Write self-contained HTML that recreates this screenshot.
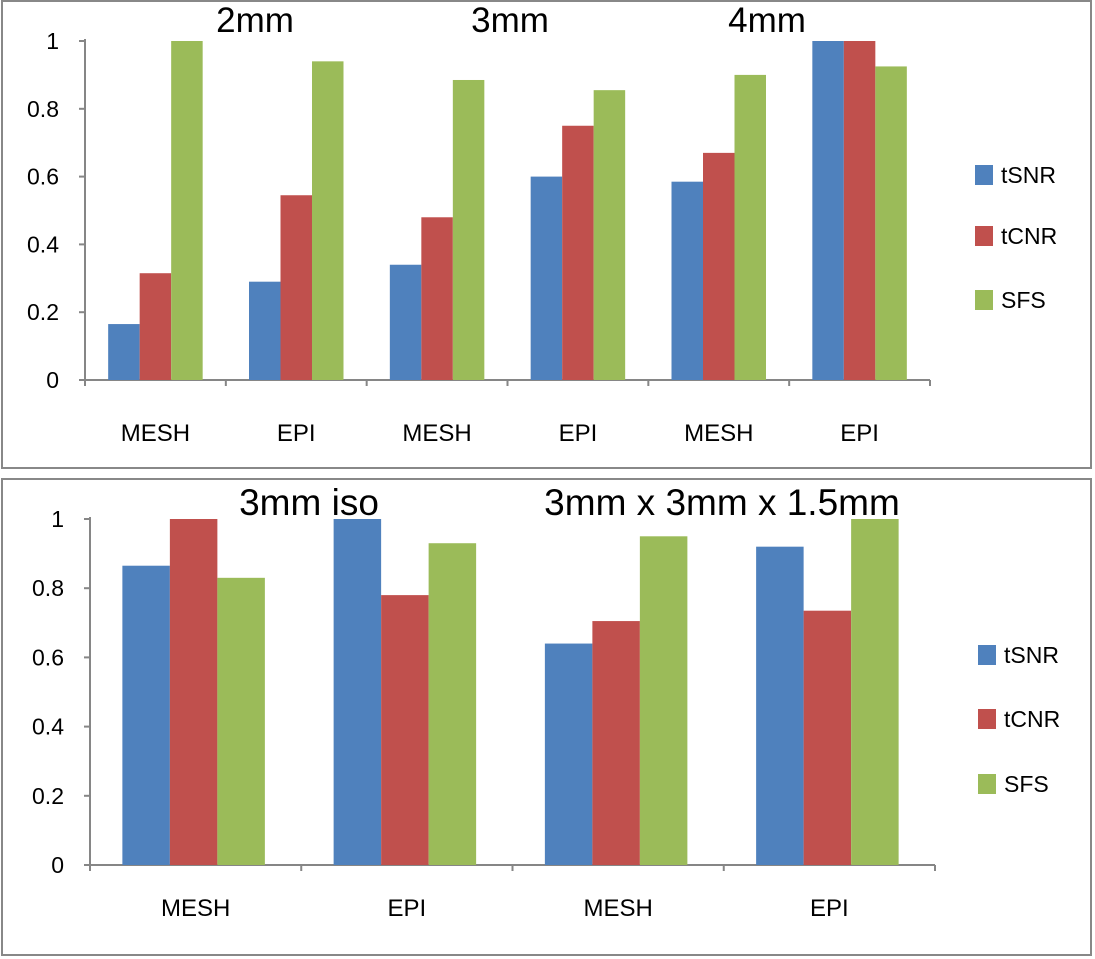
<!DOCTYPE html>
<html><head><meta charset="utf-8">
<style>
body{margin:0;background:#fff;font-family:"Liberation Sans",sans-serif;}
svg{display:block}
</style></head>
<body>
<svg id="chart" width="1095" height="959" xmlns="http://www.w3.org/2000/svg">
<rect x="2" y="1" width="1089" height="467" fill="#fff" stroke="#888" stroke-width="2"/>
<rect x="2" y="479" width="1089" height="476" fill="#fff" stroke="#888" stroke-width="2"/>
<g id="top"></g>
<g id="bottom"></g>
</svg>
<script>
const seriesNames = ["tSNR","tCNR","SFS"];
const colors = ["#4F81BD","#C0504D","#9BBB59"];
const yTicks = [0,0.2,0.4,0.6,0.8,1];
const yTickLabels = ["0","0.2","0.4","0.6","0.8","1"];

const topCategories = ["MESH","EPI","MESH","EPI","MESH","EPI"];
const topTSNR = [0.165,0.29,0.34,0.60,0.585,1.0];
const topTCNR = [0.315,0.545,0.48,0.75,0.67,1.0];
const topSFS = [1.0,0.94,0.885,0.855,0.90,0.925];
const topTitles = ["2mm","3mm","4mm"];

const botCategories = ["MESH","EPI","MESH","EPI"];
const botTSNR = [0.865,1.0,0.64,0.92];
const botTCNR = [1.0,0.78,0.705,0.735];
const botSFS = [0.83,0.93,0.95,1.0];
const botTitles = ["3mm iso","3mm x 3mm x 1.5mm"];

const NS="http://www.w3.org/2000/svg";
function mk(parent,tag,attrs){const e=document.createElementNS(NS,tag);for(const k in attrs)e.setAttribute(k,attrs[k]);parent.appendChild(e);return e;}

function drawPanel(g,cfg,cats,series){
  const y=v=>cfg.y0-(cfg.y0-cfg.y1)*v;
  const gw=(cfg.x1-cfg.x0)/cats.length;
  const x=i=>cfg.x0+gw*i;
  let ax=mk(g,"line",{x1:cfg.x0,y1:cfg.y1-2,x2:cfg.x0,y2:cfg.y0,stroke:"#868686","stroke-width":2});
  
  
  let bx=mk(g,"line",{x1:cfg.x0,y1:cfg.y0,x2:cfg.x1,y2:cfg.y0,stroke:"#868686","stroke-width":2});
  
  
  yTicks.forEach((t,i)=>{
    let tk=mk(g,"line",{x1:cfg.x0-6,y1:y(t),x2:cfg.x0,y2:y(t),stroke:"#868686","stroke-width":2});
    
    
    let tx=mk(g,"text",{x:cfg.x0-26,y:y(t)+8,"text-anchor":"end","font-size":23,fill:"#000"});
    tx.textContent=yTickLabels[i];
    
    
  });
  for(let i=0;i<=cats.length;i++){
    let tk=mk(g,"line",{x1:x(i),y1:cfg.y0,x2:x(i),y2:cfg.y0+6,stroke:"#868686","stroke-width":2});
    
    
  }
  cats.forEach((c,i)=>{
    let tx=mk(g,"text",{x:x(i)+gw/2,y:cfg.labelY,"text-anchor":"middle","font-size":24,fill:"#000"});
    tx.textContent=c;
    
    
    const start=x(i)+(gw-3*cfg.bw)/2+cfg.off;
    series.forEach((s,k)=>{
      let r=mk(g,"rect",{x:start+k*cfg.bw,y:y(s[i]),width:cfg.bw,height:cfg.y0-y(s[i]),fill:colors[k]});
      
      
    });
  });
  seriesNames.forEach((n,k)=>{
    let r=mk(g,"rect",{x:cfg.lx,y:cfg.ly[k]-10,width:18,height:20,fill:colors[k]});
    
    
    let tx=mk(g,"text",{x:cfg.lx+26,y:cfg.ly[k]+8,"font-size":23,fill:"#000"});
    tx.textContent=n;
    
    
  });
  cfg.titles.forEach((t,i)=>{
    let tx=mk(g,"text",{x:cfg.titleX[i],y:cfg.titleY,"text-anchor":"middle","font-size":cfg.titleSize,fill:"#000"});
    tx.textContent=t;
    
    
  });
}
drawPanel(document.getElementById("top"),
 {x0:85,x1:930,y0:380,y1:41,bw:31.5,off:0,labelY:441,lx:975,ly:[175,236,300],titles:topTitles,titleX:[255,510,767],titleY:32,titleSize:35},
 topCategories,[topTSNR,topTCNR,topSFS]);
drawPanel(document.getElementById("bottom"),
 {x0:90,x1:935,y0:865,y1:519,bw:47.5,off:-2,labelY:916,lx:978,ly:[655,719,784],titles:botTitles,titleX:[309,722],titleY:515,titleSize:37},
 botCategories,[botTSNR,botTCNR,botSFS]);
</script>
</body></html>
